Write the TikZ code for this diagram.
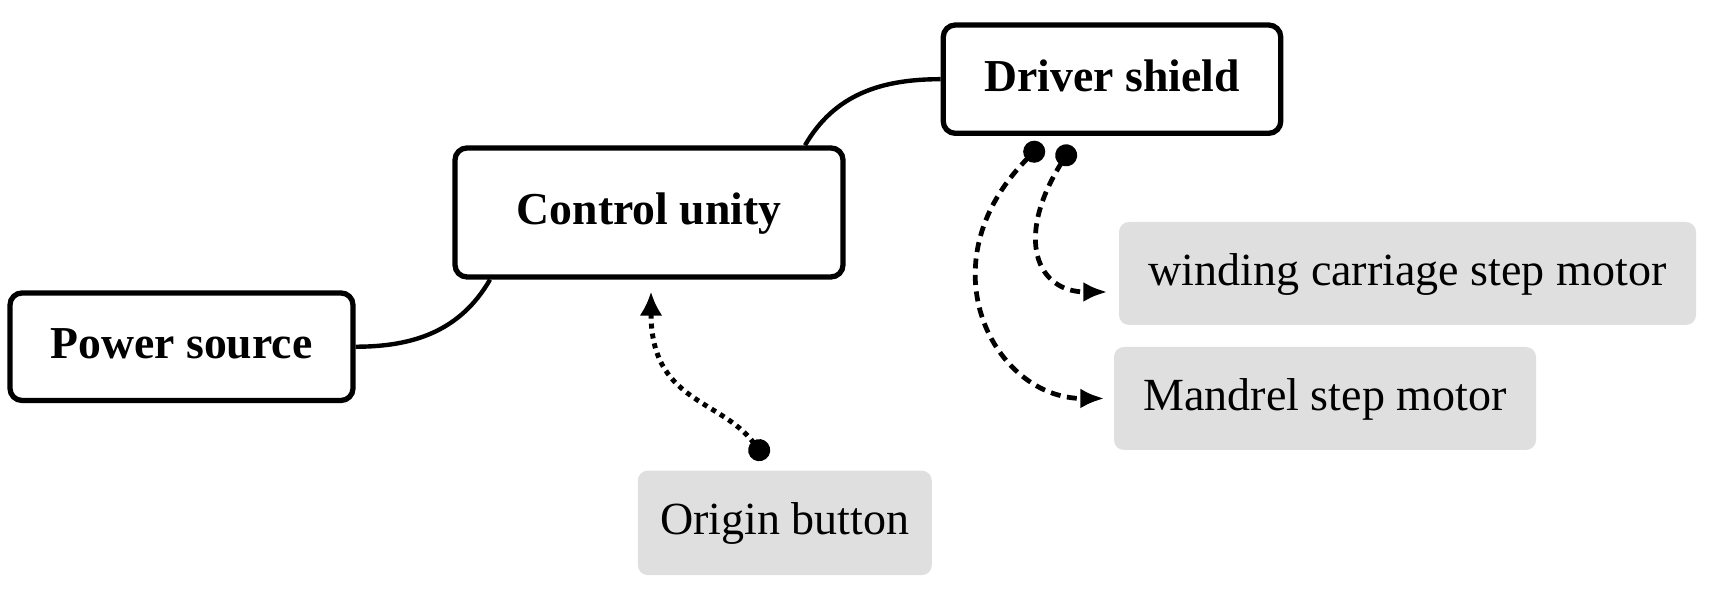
\documentclass[tikz,border=0pt]{standalone}
\usepackage{fontspec}
\setmainfont{Liberation Serif}
\usepackage{tikz}
\usetikzlibrary{arrows.meta,positioning}
\definecolor{boxgrey}{HTML}{DFDFDF}

\begin{document}
\begin{tikzpicture}[
    unit/.style={draw,line width=1.5pt,rounded corners=0.12cm,fill=white,inner sep=0pt,
        text height=0.68em,text depth=0pt,font=\fontsize{13}{15}\selectfont\bfseries},
    part/.style={fill=boxgrey,rounded corners=0.1cm,inner sep=0pt,
        text height=0.68em,text depth=0pt,font=\fontsize{13.1}{15}\selectfont},
    wire/.style={line width=1.25pt},
    dashlink/.style={line width=1.35pt,dash pattern=on 0.1cm off 0.065cm,
        {Circle[length=0.22cm]}-{Latex[length=0.24cm,width=0.2cm]}},
    dotlink/.style={line width=1.4pt,dash pattern=on 0.05cm off 0.05cm,
        {Circle[length=0.22cm]}-{Latex[length=0.24cm,width=0.23cm]}}
]
    
        \useasboundingbox (0,0) rectangle (17.26,5.96);
        
        % main units
        \node[unit,minimum width=3.43cm,minimum height=1.075cm] (pwr) at (1.815,2.4925) {Power source};
        \node[unit,minimum width=3.88cm,minimum height=1.29cm] (ctrl) at (6.49,3.835) {Control unity};
        \node[unit,minimum width=3.375cm,minimum height=1.083cm] (drv) at (11.12,5.168) {Driver shield};
        
        % parts
        \node[part,minimum width=5.77cm,minimum height=1.03cm] (wind) at (14.075,3.225) {winding carriage step motor};
        \node[part,minimum width=4.22cm,minimum height=1.03cm] (mand) at (13.25,1.975) {Mandrel step motor};
        \node[part,minimum width=2.94cm,minimum height=1.045cm] (orig) at (7.848,0.731) {Origin button};
        
        % wires
        \draw[wire] (pwr.east) to[out=0,in=-120] ([xshift=-1.59cm]ctrl.south);
        \draw[wire] ([xshift=1.56cm]ctrl.north) to[out=60,in=180] (drv.west);
        
        % signals
        \draw[dotlink] ([shift={(-0.19,0.11)}]orig.north) .. controls +(127:0.76) and +(-90:1.11) .. ([shift={(0.02,-0.12)}]ctrl.south);
        \draw[dashlink] ([shift={(-0.70,-0.08)}]drv.south) .. controls +(225:1.7) and +(180:1.1) .. ([xshift=-0.09cm]mand.west);
        \draw[dashlink] ([shift={(-0.40,-0.10)}]drv.south) .. controls +(238:1.1) and +(180:0.7) .. ([shift={(-0.11,-0.185)}]wind.west);
        
        \end{tikzpicture}
\end{document}
